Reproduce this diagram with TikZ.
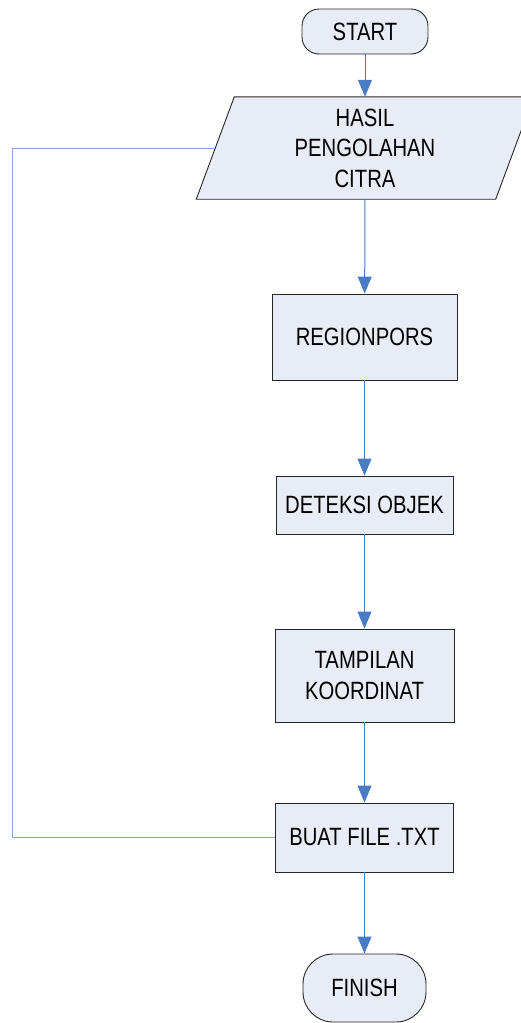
\documentclass[tikz,border=0pt]{standalone}
\usepackage{fontspec}
\setmainfont{Liberation Sans}[FakeStretch=0.81]
\usetikzlibrary{arrows.meta,backgrounds}
\definecolor{boxfill}{HTML}{E8ECF7}
\definecolor{boxline}{HTML}{262626}
\definecolor{flow}{HTML}{4A7CC6}
\definecolor{loopline}{HTML}{86A8DC}
\tikzset{
  x=1pt, y=1pt,
  every node/.style={font=\fontsize{25}{30.5}\selectfont, align=center, inner sep=0pt},
  procbox/.style={draw=boxline, line width=0.9pt, fill=boxfill},
  terminal/.style={procbox, rounded corners=17pt},
  flowarrow/.style={draw=flow, line width=1pt, -{Triangle[length=17pt,width=14pt]}},
  loopback/.style={draw=loopline, line width=1pt}
}
\begin{document}
\begin{tikzpicture}
\useasboundingbox (0,0) rectangle (521,-1023);

\node[terminal, minimum width=126pt, minimum height=45pt] (start) at (365,-31.5) {START};

% input/output block: text node, parallelogram outline drawn behind it
\node[minimum width=299pt, minimum height=102pt] (hasil) at (365,-148) {HASIL\\PENGOLAHAN\\CITRA};
\begin{scope}[on background layer]
  \draw[procbox] ([xshift=-19pt]hasil.south west) -- ([xshift=-19pt]hasil.south east)
    -- ([xshift=19pt]hasil.north east) -- ([xshift=19pt]hasil.north west) -- cycle;
\end{scope}

\node[procbox, minimum width=185pt, minimum height=86pt] (region) at (364.5,-337) {REGIONPORS};
\node[procbox, minimum width=177pt, minimum height=58pt] (deteksi) at (364.5,-505) {DETEKSI OBJEK};
\node[procbox, minimum width=179pt, minimum height=93pt] (tampil) at (364.5,-675.5) {TAMPILAN\\KOORDINAT};
\node[procbox, minimum width=178pt, minimum height=69pt] (buat) at (364.5,-837.5) {BUAT FILE .TXT};
\node[terminal, rounded corners=30pt, minimum width=123pt, minimum height=68pt] (finish) at (364.5,-988) {FINISH};

\draw[flowarrow] (start) -- (start |- hasil.north);
\draw[flowarrow] (hasil.south) -- (region);
\draw[flowarrow] (region) -- (deteksi);
\draw[flowarrow] (deteksi) -- (tampil);
\draw[flowarrow] (tampil) -- (buat);
\draw[flowarrow] (buat) -- (finish);

\coordinate (loopcorner) at (12,-148);
\draw[loopback] (hasil.west) -- (loopcorner) |- (buat.west);
\end{tikzpicture}
\end{document}
